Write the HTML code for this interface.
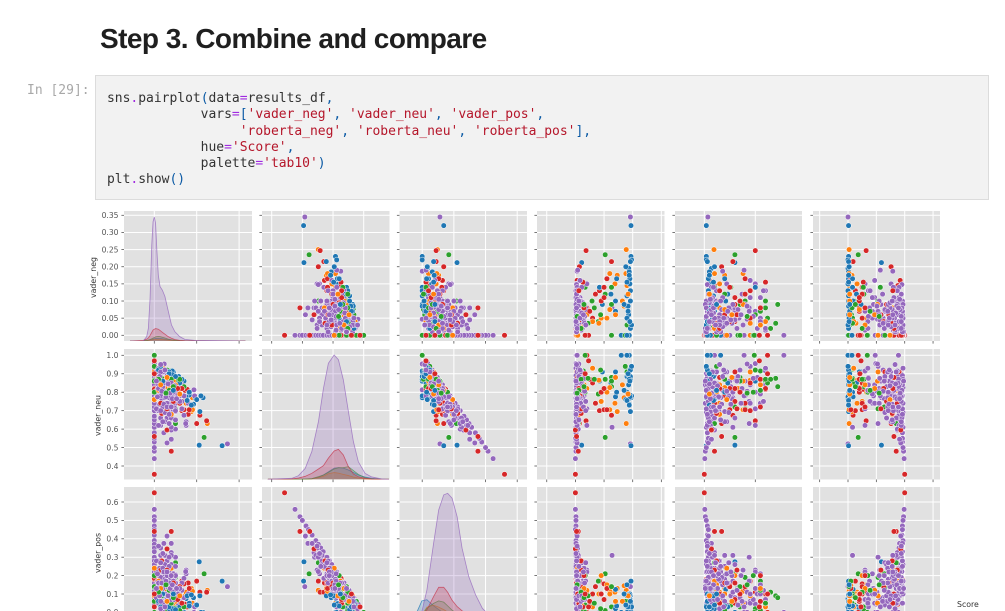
<!DOCTYPE html>
<html lang="en">
<head>
<meta charset="utf-8">
<title>Step 3. Combine and compare</title>
<style>
html,body{margin:0;padding:0;background:#fff;}
body{position:relative;width:1005px;height:611px;overflow:hidden;}
#heading{position:absolute;left:100px;top:21px;margin:0;font:bold 28px/36px "Liberation Sans",sans-serif;color:#1f1f1f;letter-spacing:-0.545px;white-space:nowrap;filter:blur(0.25px);}
#prompt{position:absolute;left:27px;top:83px;font:13px/16.25px "DejaVu Sans Mono",monospace;color:#a8a8a8;white-space:pre;filter:blur(0.25px);}
#cell{position:absolute;left:95px;top:75px;width:892px;height:123px;background:#f2f2f2;border:1px solid #dcdcdc;}
#code{position:absolute;left:107px;top:91px;margin:0;font:13px/16.25px "DejaVu Sans Mono",monospace;color:#333;white-space:pre;letter-spacing:-0.02px;filter:blur(0.25px);}
#code .o{color:#a02be0;}
#code .s{color:#b5172b;}
#code .p{color:#0b5aa5;}
#chart{position:absolute;left:0;top:0;filter:blur(0.35px);}
</style>
</head>
<body>
<h1 id="heading">Step 3. Combine and compare</h1>
<div id="prompt">In [29]:</div>
<div id="cell"></div>
<pre id="code">sns<span class="o">.</span>pairplot<span class="p">(</span>data<span class="o">=</span>results_df<span class="p">,</span>
            vars<span class="o">=</span><span class="p">[</span><span class="s">'vader_neg'</span><span class="p">,</span> <span class="s">'vader_neu'</span><span class="p">,</span> <span class="s">'vader_pos'</span><span class="p">,</span>
                 <span class="s">'roberta_neg'</span><span class="p">,</span> <span class="s">'roberta_neu'</span><span class="p">,</span> <span class="s">'roberta_pos'</span><span class="p">],</span>
            hue<span class="o">=</span><span class="s">'Score'</span><span class="p">,</span>
            palette<span class="o">=</span><span class="s">'tab10'</span><span class="p">)</span>
plt<span class="o">.</span>show<span class="p">()</span></pre>
<svg id="chart" width="1005" height="611" viewBox="0 0 1005 611" xmlns="http://www.w3.org/2000/svg"></svg>
<script>
/* ---------- Score 1 ---------- */
const neg1=[.32,.212,.23,.22,.215,.195,.185,.165,.15,.14,.13,.115,.09,.10,.12,.085,.06,.027,.07,.085,.1,0,0,0,.04,.02,.05,.03,.07,.04,.165,.2,.155,.175,.09];
const neu1=[.51,.513,.77,.78,.695,.765,.735,.785,.775,.86,.87,.885,.91,.775,.85,.915,.84,.933,.91,.895,.885,1,1,1,.87,.92,.8,.94,.9,.86,.8,.76,.755,.73,.81];
const pos1=[.17,.275,0,0,.09,.04,.08,.05,.075,0,0,0,0,.125,.03,0,.1,.04,.02,.02,.015,0,0,0,.09,.06,.15,.03,.03,.1,.035,.04,.09,.095,.1];
const rn1=[.97,.11,.97,.98,.96,.93,.94,.95,.95,.42,.96,.9,.47,.7,.62,.9,.93,.97,.7,.92,.96,.8,.94,.9,.94,.96,.9,.98,.92,.95,.72,.88,.9,.94,.85];
const ru1=[.02,.3,.02,.02,.03,.07,.05,.04,.05,.5,.04,.09,.3,.21,.23,.05,.06,.02,.1,.07,.03,.16,.06,.03,.05,.03,.08,.02,.05,.03,.2,.1,.09,.05,.12];
const rp1=[.01,.59,.01,0,.01,0,.01,.01,0,.08,0,.01,.23,.09,.15,.05,.01,.01,.2,.01,.01,.04,0,.07,.01,.01,.02,0,.03,.02,.08,.02,.01,.01,.03];
/* ---------- Score 2 ---------- */
const neg2=[.25,.18,.175,.145,.18,.15,.085,.035,.05,.05,.09,.08,.06,0,.04,.02,.075,.1,0,.03,.06,.12];
const neu2=[.63,.77,.695,.765,.705,.74,.77,.865,.75,.8,.86,.68,.82,.91,.93,.81,.825,.84,.76,.84,.88,.79];
const pos2=[.12,.05,.13,.09,.115,.11,.145,.1,.2,.15,.05,.24,.12,.09,.03,.17,.1,.06,.24,.13,.06,.09];
const rn2=[.887,.88,.73,.9,.6,.69,.85,.41,.45,.55,.1,.07,.2,.02,.3,.03,.6,.82,.04,.15,.7,.92];
const ru2=[.095,.1,.2,.08,.38,.15,.1,.45,.3,.12,.38,.15,.33,.45,.6,.1,.2,.15,.22,.55,.27,.05];
const rp2=[.02,.02,.07,.02,.02,.16,.05,.14,.25,.33,.52,.78,.47,.53,.1,.87,.2,.03,.74,.3,.03,.03];
/* ---------- Score 3 ---------- */
const neg3=[.235,.14,.1,.075,.1,0,.07,.04,.1,.09,.14,.12,.06,.05,.03,0,0,0,0,.035,.07,.08,.02,.055,.09];
const neu3=[.555,.82,.86,.915,.63,.865,.72,.79,.71,.88,.83,.87,.92,.85,.91,.86,.94,.8,1,.875,.81,.87,.87,.795,.83];
const pos3=[.21,.04,.04,.01,.27,.135,.21,.17,.19,.03,.03,.01,.02,.1,.06,.14,.06,.2,0,.09,.12,.05,.11,.15,.08];
const rn3=[.52,.17,.29,.14,.05,.02,.06,.4,.07,.63,.63,.52,.44,.3,.9,.63,.87,.17,.17,.22,.06,.33,.1,.03,.15];
const ru3=[.3,.26,.6,.55,.1,.33,.3,.55,.4,.35,.1,.2,.5,.62,.07,.35,.12,.48,.49,.7,.55,.6,.65,.42,.72];
const rp3=[.18,.57,.11,.31,.85,.65,.64,.05,.53,.02,.27,.28,.06,.08,.03,.02,.01,.35,.34,.08,.39,.07,.25,.55,.13];
/* ---------- Score 4 ---------- */
const neg4=[0,.247,.215,.2,.16,.145,.13,.08,0,.06,.14,.155,.08,.04,0,0,0,.02,.165,.035,0,.05,.06,.03,.1,.07,.04,.09,.12,.13,.06,.02,.08,.11,0,0];
const neu4=[.355,.645,.675,.63,.68,.81,.70,.48,.56,.595,.705,.815,.82,.91,.91,.82,.815,.82,.705,.685,1,.85,.78,.74,.8,.87,.82,.75,.74,.82,.71,.88,.72,.82,.97,.9];
const pos4=[.65,.11,.11,.17,.16,.045,.17,.44,.44,.345,.155,.03,.1,.05,.09,.18,.185,.16,.13,.28,0,.1,.16,.23,.1,.06,.14,.16,.14,.05,.23,.1,.2,.07,.03,.1];
const rn4=[0,.186,.63,.07,.03,.02,.42,.05,.02,0,.5,.13,.2,.05,.02,.02,.01,.01,.55,.1,.2,.3,.08,.03,.45,.25,.12,.02,.35,.06,.1,.04,.15,.5,.23,.17];
const ru4=[0,.5,.28,.17,.05,.1,.45,.1,.17,.07,.25,.6,.6,.3,.08,.02,.05,.05,.4,.12,.62,.45,.2,.1,.35,.55,.25,.3,.4,.15,.32,.15,.55,.3,.54,.62];
const rp4=[1,.32,.09,.76,.92,.88,.13,.85,.81,.93,.25,.27,.2,.65,.9,.96,.94,.94,.05,.78,.18,.25,.72,.87,.2,.2,.63,.68,.25,.79,.58,.81,.3,.2,.23,.21];
/* ---------- Score 5 ---------- */
const neg5=[.345,0,0,0,0,0,0,0,0,0, 0,0,0,0,0,0,0,0,0,0, 0,0,0,0,0,0,0,0,.047,.187,
.06,.08,.045,.03,.08,.1,.15,.15,.1,.055, .148,.14,.08,.02,.03,.05,.07,.09,.11,.13,
.02,.04,.06,.08,.1,.12,.03,.05,.07,.09, .11,.02,.04,.06,.08,.1,.13,.03,.05,.07,
.09,.02,.04,.06,.08,.03,.05,.07,.015,.025, .035,.045,.055,.065,.075,.085,.095,.015,.025,.035,
.045,.055,.065,.075,.12,.14,.13,.1,.06,.04, .02,.03,.05,.07,.09,.11,.01,.01,.04,.08, .02,.11,.04,.19,.16,
.03,.06,.09,.05,.07,.02,.04,.1,.08,.06, .11,.12,.03,.05,.07,.04,.09,.02,.06,.08,
.015,.025,.035,.045,.055,.065,.075,.085,.095,.105, .03,.05,.01,.01,.02,.04,.06,.08,.03,.1];
const neu5=[.52,.44,.48,.5,.53,.55,.58,.61,.63,.65, .67,.7,.72,.74,.76,.78,.8,.82,.84,.86, .88,.9,.92,.94,.955,1,1,1,.953,.813,
.525,.545,.58,.62,.595,.6,.62,.64,.695,.695, .63,.675,.61,.93,.89,.91,.87,.86,.84,.84,
.88,.85,.84,.83,.82,.78,.82,.81,.8,.78, .75,.78,.78,.77,.75,.74,.71,.74,.74,.71,
.7,.7,.69,.66,.66,.66,.64,.63,.915,.845, .915,.875,.825,.775,.885,.805,.715,.815,.735,.765,
.805,.875,.695,.735,.82,.78,.75,.78,.89,.74, .84,.78,.69,.84,.74,.78,.91,.77,.91,.78, .93,.79,.81,.78,.74,
.87,.8,.82,.77,.68,.82,.83,.7,.81,.87, .81,.75,.91,.85,.77,.72,.8,.86,.74,.85,
.775,.885,.805,.735,.775,.845,.795,.765,.835,.765, .95,.92,.86,.71,.62,.64,.72,.72,.7,.65];
const pos5=[.14,.56,.52,.5,.47,.45,.42,.39,.37,.35, .33,.3,.28,.26,.24,.22,.2,.18,.16,.14, .12,.1,.08,.06,.045,0,0,0,0,0,
.415,.375,.375,.35,.325,.3,.23,.21,.205,.25, .222,.185,.31,.05,.08,.04,.06,.05,.05,.03,
.1,.11,.1,.09,.08,.1,.15,.14,.13,.13, .14,.2,.18,.17,.17,.16,.16,.23,.21,.22,
.21,.28,.27,.28,.26,.31,.31,.3,.07,.13, .05,.08,.12,.16,.04,.11,.19,.17,.24,.2,
.15,.07,.24,.19,.06,.08,.12,.12,.05,.22, .14,.19,.26,.09,.17,.11,.08,.22,.05,.14, .05,.1,.15,.03,.1,
.1,.14,.09,.18,.25,.16,.13,.2,.11,.07, .08,.13,.06,.1,.16,.24,.11,.12,.2,.07,
.21,.09,.16,.22,.17,.09,.13,.15,.07,.13, .02,.03,.13,.28,.36,.32,.22,.2,.27,.25];
const rn5=[.96,0,.01,.01,.01,0,.02,.01,.01,.02, .01,.02,.02,.03,.01,.03,.02,.01,.04,.02, .01,.05,.03,.02,.01,.01,.02,.03,.06,.03,
.03,.02,.01,.04,.03,.05,.2,.02,.07,.05, .02,.03,.64,.01,.02,.03,.05,.02,.08,.04,
.12,.01,.03,.06,.1,.015,.02,.04,.07,.15, .02,.05,.09,.13,.18,.03,.01,.06,.02,.2,
.04,.08,.11,.01,.02,.05,.01,.03,.1,.02, .06,.14,.01,.03,.02,.07,.02,.04,.01,.09,
.02,.16,.01,.05,.02,.11,.03,.02,.01,.04, .03,.02,.01,.06,.02,.04,.03,.01,.07,.02, .05,.02,.1,.04,.08,
.01,.02,.03,.04,.01,.06,.02,.08,.03,.05, .01,.02,.1,.12,.07,.15,.01,.04,.09,.02,
.03,.06,.16,.02,.04,.11,.01,.05,.13,.03, .02,.08,.01,.02,.03,.01,.14,.02,.18,.06];
const ru5=[.035,.005,.01,.02,.03,.04,.03,.02,.05,.07, .03,.04,.15,.05,.1,.02,.2,.09,.03,.25, .06,.02,.35,.45,.5,.1,.39,.78,.42,.18,
.04,.07,.03,.06,.1,.08,.5,.22,.15,.2, .03,.07,.28,.02,.1,.22,.3,.4,.45,.6,
.52,.06,.15,.26,.35,.04,.18,.34,.5,.4, .08,.12,.2,.28,.44,.03,.12,.38,.55,.5,
.07,.14,.24,.04,.3,.1,.2,.44,.6,.13, .07,.3,.02,.09,.33,.42,.05,.16,.08,.27,
.03,.48,.06,.17,.37,.09,.58,.02,.03,.05, .01,.04,.02,.03,.01,.06,.12,.16,.08,.24, .6,.55,.55,.39,.45,
.02,.05,.1,.14,.03,.04,.08,.12,.02,.06, .18,.04,.2,.1,.23,.15,.28,.32,.36,.1,
.14,.18,.22,.26,.02,.05,.07,.09,.13,.06, .15,.19,.01,.02,.03,.05,.07,.09,.11,.16];
const rp5=[0,.99,.98,.97,.96,.96,.95,.97,.94,.91, .96,.94,.83,.92,.89,.95,.78,.9,.93,.73, .93,.93,.62,.53,.49,.89,.48,.19,.52,.79,
.93,.91,.96,.9,.87,.87,.3,.76,.78,.75, .95,.9,.08,.97,.88,.75,.65,.58,.47,.36,
.36,.93,.82,.68,.55,.945,.8,.62,.43,.45, .9,.83,.71,.59,.38,.94,.87,.56,.43,.3,
.89,.78,.65,.95,.68,.85,.79,.53,.3,.85, .87,.56,.97,.88,.65,.51,.93,.8,.91,.64,
.95,.36,.93,.78,.61,.8,.39,.96,.96,.91, .96,.94,.97,.91,.97,.9,.85,.83,.85,.74, .35,.43,.35,.57,.47,
.97,.93,.87,.82,.96,.9,.9,.8,.95,.89, .81,.94,.7,.78,.7,.7,.71,.64,.55,.88,
.83,.76,.62,.72,.94,.84,.92,.86,.74,.91, .83,.73,.98,.96,.94,.94,.79,.89,.71,.78];

/* ---------- KDE curves on the diagonal ---------- */
const kdeNegGrid=[-.114,-.052,-.036,-.028,-.02,-.012,-.006,0,.006,.0125,.019,.027,.038,.05,.066,.081,.097,.12,.144,.19,.425,.43];
const kdeNeg1=[0,.002,.004,.006,.009,.012,.015,.018,.02,.021,.021,.02,.018,.015,.012,.008,.005,.003,.002,.002,0,0];
const kdeNeg2=[0,.001,.003,.005,.007,.009,.011,.012,.013,.014,.014,.014,.012,.01,.007,.004,.003,.001,0,0,0,0];
const kdeNeg3=[0,.002,.005,.008,.012,.018,.023,.028,.033,.035,.036,.035,.03,.024,.015,.01,.006,.003,.001,0,0,0];
const kdeNeg4=[0,.005,.015,.025,.045,.07,.088,.095,.1,.098,.095,.085,.07,.055,.035,.022,.012,.005,.002,.001,0,0];
const kdeNeg5=[0,0,.035,.102,.344,.774,.962,1,.95,.72,.53,.44,.41,.36,.24,.13,.075,.035,.013,.005,0,0];

const kdeNeuGrid=[.219,.414,.468,.523,.577,.631,.672,.712,.759,.794,.834,.875,.916,.956,1.011,1.065,1.146,1.206];
const kdeNeu1=[0,0,0,.002,.005,.016,.035,.06,.09,.094,.09,.075,.055,.035,.018,.008,.001,0];
const kdeNeu2=[0,0,0,0,.004,.013,.025,.045,.054,.05,.04,.03,.018,.01,.003,.001,0,0];
const kdeNeu3=[0,0,0,.002,.005,.021,.035,.056,.083,.093,.094,.102,.07,.04,.013,.004,0,0];
const kdeNeu4=[0,.003,.01,.024,.048,.083,.11,.17,.228,.241,.196,.102,.043,.02,.008,.003,0,0];
const kdeNeu5=[0,.008,.029,.088,.223,.464,.732,.933,1,.962,.8,.547,.303,.142,.048,.019,.003,0];

const kdePosGrid=[-.122,-.042,-.003,.037,.09,.13,.17,.201,.236,.276,.315,.368,.422,.475,.514,.594,.833];
const kdePos1=[0,.04,.13,.14,.09,.06,.03,.015,.008,.003,0,0,0,0,0,0,0];
const kdePos2=[0,0,.016,.08,.095,.08,.06,.04,.025,.01,.003,0,0,0,0,0,0];
const kdePos3=[0,0,.016,.07,.11,.13,.12,.09,.055,.03,.012,.005,0,0,0,0,0];
const kdePos4=[0,0,.016,.057,.165,.24,.24,.2,.135,.084,.05,.02,.008,.002,0,0,0];
const kdePos5=[0,0,.043,.218,.596,.865,.987,1,.96,.81,.555,.326,.178,.07,.03,.003,0];

/* ---------- Tick values ---------- */
const xTicksNeg=[0,.2,.4];
const xTicksNeu=[.25,.5,.75,1];
const xTicksPos=[0,.25,.5,.75];
const xTicksRobNeg=[-.5,0,.5,1,1.5];
const xTicksRobNeu=[0,.5];
const xTicksRobPos=[-.5,0,.5,1,1.5];
const yTicksNeg=["0.00","0.05","0.10","0.15","0.20","0.25","0.30","0.35"];
const yTicksNeu=["0.4","0.5","0.6","0.7","0.8","0.9","1.0"];
const yTicksPos=["0.0","0.1","0.2","0.3","0.4","0.5","0.6"];

/* ---------- Assembly ---------- */
const series=[
  {color:"#1f77b4",cols:[neg1,neu1,pos1,rn1,ru1,rp1],kde:[kdeNeg1,kdeNeu1,kdePos1]},
  {color:"#ff7f0e",cols:[neg2,neu2,pos2,rn2,ru2,rp2],kde:[kdeNeg2,kdeNeu2,kdePos2]},
  {color:"#2ca02c",cols:[neg3,neu3,pos3,rn3,ru3,rp3],kde:[kdeNeg3,kdeNeu3,kdePos3]},
  {color:"#d62728",cols:[neg4,neu4,pos4,rn4,ru4,rp4],kde:[kdeNeg4,kdeNeu4,kdePos4]},
  {color:"#9467bd",cols:[neg5,neu5,pos5,rn5,ru5,rp5],kde:[kdeNeg5,kdeNeu5,kdePos5]}
];
const kdeGrids=[kdeNegGrid,kdeNeuGrid,kdePosGrid];
const xTickSets=[xTicksNeg,xTicksNeu,xTicksPos,xTicksRobNeg,xTicksRobNeu,xTicksRobPos];
const yTickSets=[yTicksNeg,yTicksNeu,yTicksPos];

function scale(d0,d1,r0,r1){return function(v){return r0+(v-d0)*(r1-r0)/(d1-d0);};}
const columnsBox=[{l:124,r:252},{l:262,r:389.5},{l:399.5,r:527},{l:537,r:664.5},{l:675,r:802},{l:813,r:940}];
const rowsBox=[{t:211,b:341},{t:349,b:479.5},{t:487,b:617}];
const xAxes=[scale(0,.2,154.3,196.7),scale(.25,1,271.7,363.7),scale(0,.75,422.2,517.2),scale(0,1,575.4,632.7),scale(0,.5,704.3,755.3),scale(0,1,848,904.7)];
const yAxes=[scale(0,.35,335.3,215.3),scale(.4,1,466,355.3),scale(.1,.6,594,502)];
const kdeAxes=[scale(0,1,341,217),scale(0,1,479.3,355),scale(0,1,617,493.3)];
const tickColor="#555";
const NS="http://www.w3.org/2000/svg";
const svg=document.getElementById("chart");
function make(tag,parent,props){
  const el=document.createElementNS(NS,tag);
  for(const k in props){el.setAttribute(k,props[k]);}
  parent.appendChild(el);
  return el;
}
const defs=make("defs",svg,{});

/* Scatter draw order: every score mixed evenly through the sequence */
const scatterOrder=[];
series.forEach(function(s,si){
  s.cols[0].forEach(function(_,i){scatterOrder.push({si:si,i:i,key:(i+.5)/s.cols[0].length});});
});
scatterOrder.sort(function(a,b){return a.key-b.key;});

rowsBox.forEach(function(rb,r){
  const yAxis=yAxes[r];
  const yKey=yTickSets[r];
  columnsBox.forEach(function(cb,c){
    const xAxis=xAxes[c];
    const panel=make("g",svg,{});
    
    
    const bg=make("rect",panel,{x:cb.l,y:rb.t,width:cb.r-cb.l,height:rb.b-rb.t,fill:"#e1e1e1"});
    
    
    xTickSets[c].forEach(function(t){
      const x=xAxis(t);
      const g=make("line",panel,{x1:x,x2:x,y1:rb.t,y2:rb.b,stroke:"#fff","stroke-width":1});
      
      
      if(r<2){
        const m=make("line",panel,{x1:x,x2:x,y1:rb.b,y2:rb.b+2.6,stroke:tickColor,"stroke-width":.8});
        
        
      }
    });
    yKey.forEach(function(label){
      const y=yAxis(parseFloat(label));
      const g=make("line",panel,{x1:cb.l,x2:cb.r,y1:y,y2:y,stroke:"#fff","stroke-width":1});
      
      
      const m=make("line",panel,{x1:cb.l-2.6,x2:cb.l,y1:y,y2:y,stroke:tickColor,"stroke-width":.8});
      
      
      if(c===0){
        const t=make("text",panel,{x:cb.l-5.5,y:y+2.8,"text-anchor":"end","font-size":7.6,"font-family":"DejaVu Sans, sans-serif",fill:tickColor});
        
        
        t.textContent=label;
      }
    });
    if(r===c){
      const clipId="clip-"+r;
      const cp=make("clipPath",defs,{id:clipId});
      make("rect",cp,{x:cb.l,y:rb.t,width:cb.r-cb.l,height:rb.b-rb.t});
      const grid=kdeGrids[r];
      const kdeY=kdeAxes[r];
      series.forEach(function(s,si){
        const vals=s.kde[r];
        let d="";
        grid.forEach(function(gx,i){
          d+=(i?"L":"M")+xAxis(gx).toFixed(2)+" "+kdeY(vals[i]).toFixed(2);
        });
        const area=make("path",panel,{d:d+"L"+xAxis(grid[grid.length-1]).toFixed(2)+" "+kdeY(0)+"L"+xAxis(grid[0]).toFixed(2)+" "+kdeY(0)+"Z",fill:s.color,"fill-opacity":.25,"clip-path":"url(#"+clipId+")"});
        
        
        const line=make("path",panel,{d:d,fill:"none",stroke:s.color,"stroke-width":.8,"stroke-opacity":.75,"clip-path":"url(#"+clipId+")"});
        
        
      });
    } else {
      scatterOrder.forEach(function(o){
        const s=series[o.si];
        const dot=make("circle",panel,{cx:xAxis(s.cols[c][o.i]).toFixed(2),cy:yAxis(s.cols[r][o.i]).toFixed(2),r:2.75,fill:s.color,stroke:"#fff","stroke-width":.5});
        
        
      });
    }
  });
});

const yTitles=["vader_neg","vader_neu","vader_pos"];
const yTitleX=[96,100.5,100.5];
const yTitleY=[277.5,415.5,553];
yTitles.forEach(function(name,i){
  const t=make("text",svg,{x:yTitleX[i],y:yTitleY[i],transform:"rotate(-90 "+yTitleX[i]+" "+yTitleY[i]+")","text-anchor":"middle","font-size":7.8,"font-family":"DejaVu Sans, sans-serif",fill:"#333"});
  
  
  t.textContent=name;
});
const legendTitle=make("text",svg,{x:957,y:607,"font-size":7.8,"font-family":"DejaVu Sans, sans-serif",fill:"#333"});


legendTitle.textContent="Score";
</script>
</body>
</html>
